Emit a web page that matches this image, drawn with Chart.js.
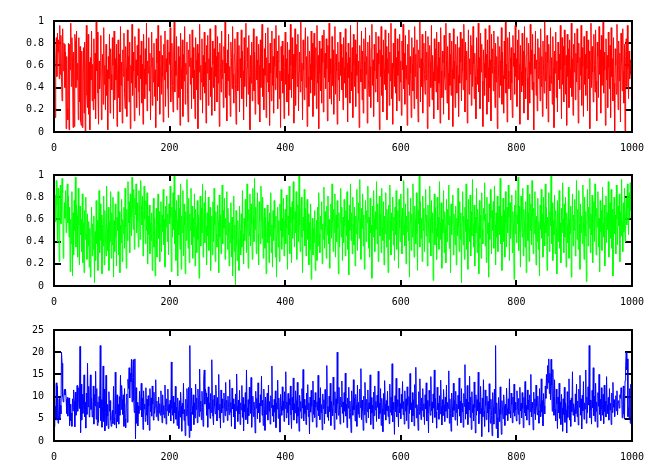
<!DOCTYPE html>
<html>
<head>
<meta charset="utf-8">
<script src="https://cdn.jsdelivr.net/npm/chart.js@4.4.1/dist/chart.umd.min.js"></script>
<style>
  html, body { margin: 0; padding: 0; background: #fff; }
  #wrap { position: relative; width: 659px; height: 475px; overflow: hidden; }
  #wrap canvas { position: absolute; left: 0; }
</style>
</head>
<body>
<div id="wrap">
  <canvas id="redChart" width="659" height="155" style="top:0px"></canvas>
  <canvas id="greenChart" width="659" height="155" style="top:154px"></canvas>
  <canvas id="blueChart" width="659" height="155" style="top:309px"></canvas>
</div>
<script>
// tick labels
const xTicks = [0, 200, 400, 600, 800, 1000];
const unitTicks = [0, 0.2, 0.4, 0.6, 0.8, 1];
const blueTicks = [0, 5, 10, 15, 20, 25];

// red series, values x100 (index = sample 0..999)
const redSeries = [
12,45,13,66,85,50,89,72,83,48,96,52,87,49,28,93,55,80,79,40,72,3,68,21,11,80,2,79,56,98,41,85,63,4,72,5,88,82,40,91,47,62,11,85,27,77,10,6,73,4,53,76,17,81,0,58,96,33,22,88,16,63,2,67,47,91,28,61,20,84,30,71,12,99,55,90,35,7,64,39,52,87,11,45,70,25,94,43,60,20,79,33,56,2,68,48,88,17,75,52,
38,85,60,12,91,29,66,47,79,5,54,83,31,70,18,95,42,63,8,74,50,89,35,21,77,58,14,92,46,68,27,81,3,60,44,97,33,72,55,10,86,40,65,22,78,51,93,36,15,69,48,82,26,61,7,88,57,30,75,43,98,19,64,53,85,37,71,11,59,90,24,67,45,80,32,56,4,84,62,28,96,41,73,16,58,87,34,69,50,9,79,47,91,23,66,54,83,39,13,72,
61,94,27,55,80,42,18,73,99,36,64,51,86,20,48,77,31,68,6,89,57,39,83,14,70,46,95,25,62,52,81,34,9,74,59,88,43,67,21,92,49,76,30,56,12,85,65,38,79,3,71,54,97,29,60,45,84,17,69,41,90,35,63,8,78,53,87,24,66,47,93,32,58,15,82,61,40,75,19,96,50,68,27,86,44,72,5,80,57,36,91,48,65,22,77,53,99,31,62,10,
74,46,88,33,59,14,81,67,39,95,52,26,70,84,43,7,63,90,37,56,78,18,66,49,92,30,73,55,11,85,41,64,98,23,58,76,34,87,50,2,69,44,81,28,61,93,37,72,16,54,86,47,65,25,79,60,9,83,40,71,97,32,57,20,75,51,89,13,67,45,94,36,62,6,80,53,28,91,42,68,17,84,59,38,96,49,73,21,63,87,30,55,4,77,46,82,35,69,12,58,
90,43,66,27,81,52,15,74,38,97,60,31,85,48,70,8,57,93,24,65,79,41,88,19,54,72,36,99,46,62,11,83,56,29,77,94,40,68,5,86,50,23,73,61,35,91,47,80,14,64,89,33,58,76,21,96,44,69,3,82,53,37,75,26,87,63,18,92,49,71,39,84,57,10,78,45,98,30,66,52,25,86,42,74,16,61,95,34,70,55,7,81,47,63,28,90,51,79,38,67,
20,85,58,44,93,31,72,62,9,80,49,67,26,96,54,37,76,13,88,60,41,83,23,70,51,99,35,64,4,78,57,45,91,29,73,17,84,63,39,94,52,68,8,81,47,32,87,59,22,75,97,42,65,14,79,55,36,90,48,71,27,86,61,2,74,50,95,33,69,18,83,56,43,92,38,77,11,66,53,89,24,72,46,98,30,62,7,80,58,41,93,35,67,19,84,51,73,28,88,45,
64,15,82,56,97,39,71,25,87,48,60,6,79,43,92,33,68,53,13,85,61,37,76,21,95,50,70,30,83,45,9,74,58,99,27,66,41,88,17,62,80,52,34,91,47,72,3,86,57,23,78,63,40,96,29,69,54,12,84,46,75,36,90,59,20,81,44,67,8,94,55,31,73,62,16,87,49,38,98,65,26,77,53,11,89,42,70,33,82,57,5,93,48,64,22,79,60,35,86,51,
14,76,44,90,63,28,84,55,38,97,69,18,81,47,73,8,59,92,34,66,52,87,24,78,41,95,61,30,71,50,12,85,57,43,98,36,67,21,89,54,79,46,5,74,62,33,93,49,70,16,83,58,27,96,40,65,10,88,53,75,37,91,60,22,80,45,68,3,86,56,31,77,64,42,94,25,72,51,17,82,48,99,35,61,9,85,55,39,90,67,29,76,44,13,87,59,71,34,96,50,
66,23,83,47,92,61,7,78,54,36,89,42,73,17,95,58,30,69,85,49,11,80,63,26,97,52,74,38,88,45,2,70,57,91,33,65,19,84,48,76,60,28,93,41,68,14,82,55,35,99,46,72,21,87,62,9,79,51,37,94,44,67,25,86,58,4,73,53,90,31,64,18,81,47,70,39,96,56,12,85,43,77,27,92,60,34,69,6,88,50,75,22,83,57,40,98,32,66,15,79,
54,89,29,71,45,93,62,8,80,38,67,51,96,24,76,59,14,86,43,70,33,91,57,19,83,48,73,3,64,98,40,77,54,27,88,61,36,92,46,10,81,68,31,95,52,74,17,87,42,63,99,35,72,56,6,84,47,69,22,90,58,39,78,13,94,50,66,28,85,44,1,75,60,34,97,53,20,82,46,71,9,89,63,37,93,55,26,79,0,68,84,41,96,57,30,73,48,65,52,62
];

// green series, values x100
const greenSeries = [
35,67,82,58,95,73,40,88,62,22,79,91,56,70,97,84,25,52,75,61,86,48,69,92,57,81,44,71,13,60,38,85,9,66,28,77,50,98,35,73,63,26,88,55,19,72,46,60,31,83,21,57,12,68,42,80,47,24,65,36,58,17,52,8,45,71,27,56,33,63,3,49,23,77,38,59,14,47,86,30,74,41,64,11,55,36,81,19,68,44,27,90,52,32,71,14,58,40,85,25,
66,37,80,8,59,31,74,44,18,62,50,85,28,67,12,55,39,78,22,60,47,71,34,88,53,16,69,41,94,57,76,30,83,62,45,98,70,51,87,33,79,64,92,48,75,58,35,86,67,42,95,72,55,81,27,68,90,60,38,77,50,84,20,63,46,73,29,57,41,66,14,52,79,35,61,9,47,70,26,58,83,43,67,22,55,76,31,64,49,87,37,60,17,72,53,81,40,65,28,74,
56,90,62,13,71,44,84,51,99,38,68,23,77,59,9,82,46,70,33,92,15,63,48,86,27,74,55,11,67,41,96,58,34,79,21,65,50,88,37,72,25,61,44,83,18,69,53,30,77,42,64,7,58,81,36,70,48,92,26,60,75,39,86,54,19,66,45,80,32,58,71,14,50,63,28,76,40,88,55,22,67,47,35,73,59,12,82,44,64,29,57,91,38,68,52,79,24,61,46,85,
33,70,48,18,57,39,75,26,62,9,44,81,31,55,0,68,37,23,59,42,14,72,50,28,65,35,86,47,20,61,41,78,53,30,92,58,16,69,45,83,36,74,56,24,88,62,40,97,51,71,29,64,84,47,19,76,58,38,90,66,43,80,25,57,70,34,62,11,49,73,39,58,21,66,45,84,30,55,17,68,41,77,52,26,63,8,47,71,35,59,22,74,50,87,33,61,44,79,27,56,
69,38,82,52,15,63,46,90,29,71,57,21,76,43,94,60,35,67,48,85,24,58,73,40,99,55,31,66,80,44,12,62,50,87,36,70,27,54,78,42,65,19,57,33,74,6,48,61,28,52,39,68,14,45,59,23,71,36,84,47,30,63,51,76,20,56,42,89,34,67,53,25,72,46,81,38,60,16,55,74,43,92,58,31,69,48,83,26,64,40,77,52,11,66,35,57,88,44,71,23,
62,39,78,54,27,68,45,85,33,59,10,73,50,92,41,66,29,80,56,37,71,18,63,47,87,32,58,75,43,96,61,24,70,52,83,36,64,15,49,77,40,68,57,90,34,62,26,79,48,55,7,72,44,86,60,31,67,51,94,38,74,22,58,81,45,65,30,88,53,41,76,19,63,47,84,35,69,56,12,73,42,91,59,28,66,50,80,37,62,23,71,46,86,33,57,68,16,78,52,40,
83,61,29,70,46,95,55,36,74,20,63,49,88,41,67,8,57,79,32,65,44,92,53,26,72,60,38,84,47,14,68,56,99,35,76,43,61,22,81,50,70,31,58,87,45,64,18,73,54,39,90,62,27,77,48,66,5,59,83,37,71,52,24,80,44,62,33,94,57,42,75,16,60,48,86,30,67,53,21,78,40,69,55,91,34,63,12,74,46,58,82,28,65,50,37,72,19,61,45,88,
54,31,76,42,66,3,58,85,37,63,24,71,49,92,33,60,15,78,52,40,82,27,67,45,96,56,35,73,18,62,48,88,30,69,54,11,77,43,64,25,84,51,38,70,59,93,36,65,21,80,47,57,8,74,42,87,61,29,68,50,76,34,90,55,19,66,44,81,31,59,72,46,97,38,63,14,52,79,40,68,26,85,57,35,71,48,91,62,23,75,43,58,82,30,67,53,6,73,47,86,
39,64,56,98,32,72,49,17,81,60,44,88,27,69,53,35,76,12,58,91,41,66,22,83,50,74,37,95,62,29,70,47,85,55,19,63,40,79,33,58,9,73,51,87,43,65,26,80,57,36,92,48,71,14,62,45,84,31,67,54,99,38,75,23,59,46,82,29,68,52,11,77,40,63,86,34,57,21,70,48,93,61,30,74,44,80,17,66,55,39,89,25,60,47,72,8,58,83,36,64,
50,78,27,61,95,42,69,33,86,56,15,74,48,63,38,91,59,24,80,45,67,4,55,87,36,71,52,97,30,65,46,82,21,59,76,40,92,63,28,70,53,85,35,61,13,77,49,68,32,89,57,44,73,18,62,81,39,66,51,94,26,58,75,43,87,34,69,9,56,80,47,64,29,91,60,37,72,54,83,22,67,45,96,58,31,75,49,88,40,63,79,55,92,70,46,84,61,93,68,77
];

// blue series, values x10
const blueSeries = [
128,32,78,52,131,47,124,40,58,96,48,80,61,200,175,100,88,97,116,104,117,94,62,98,56,92,97,35,83,46,63,33,95,68,115,90,32,110,58,76,125,67,92,120,73,213,19,128,47,105,62,80,149,55,87,29,108,60,175,77,123,54,103,149,71,97,54,61,124,38,105,79,157,49,118,35,88,42,100,75,215,46,93,31,77,169,44,117,23,64,148,35,82,56,28,111,67,91,47,33,
58,69,39,123,52,37,155,61,29,104,44,82,38,100,58,148,71,125,94,60,104,33,118,50,30,84,106,42,139,118,165,97,153,133,184,88,143,183,91,64,185,5,120,40,87,34,79,62,112,70,89,130,54,97,26,113,72,83,44,120,58,94,36,102,79,24,118,66,97,56,124,83,47,110,62,77,138,55,90,71,46,99,63,84,58,113,72,41,104,60,80,52,126,75,38,95,68,117,57,82,
64,92,45,178,73,58,101,40,87,63,123,49,76,35,97,68,28,91,54,110,79,22,85,61,130,46,71,12,94,57,118,73,35,121,8,215,66,23,119,78,60,104,37,86,52,128,71,97,41,117,83,55,162,67,90,48,112,76,33,138,160,83,117,108,58,98,31,122,72,86,51,107,64,183,94,56,36,103,79,61,126,89,45,98,70,150,52,83,29,115,63,95,74,42,108,81,57,132,68,92,
46,101,76,59,138,65,87,33,119,72,95,54,83,27,106,68,151,79,44,92,61,114,37,86,70,125,53,98,23,82,66,109,48,160,75,39,93,57,121,84,62,143,31,77,101,55,88,69,18,112,74,96,50,131,63,85,42,104,79,146,58,92,35,117,71,24,99,60,83,108,47,126,67,89,38,102,75,169,56,81,43,94,65,113,30,86,72,137,51,97,62,20,105,78,58,122,69,90,44,111,
73,156,52,88,64,107,36,95,81,124,59,28,98,70,142,47,84,63,113,91,40,132,56,76,22,103,67,89,51,118,74,161,45,94,62,80,37,108,71,127,55,86,16,99,65,114,78,43,135,60,92,53,109,76,31,88,69,148,57,97,48,120,64,82,25,106,73,93,39,116,61,85,170,54,78,46,101,66,130,35,89,72,57,144,80,26,111,63,95,49,200,84,58,121,71,38,99,77,135,62,
88,42,109,67,153,56,83,30,97,74,121,51,90,64,19,113,79,58,138,70,96,45,105,82,33,126,61,87,53,117,75,163,48,92,68,24,101,59,132,77,41,94,66,115,52,86,72,149,37,98,63,81,27,110,57,124,70,89,44,103,76,157,50,85,62,118,35,96,73,21,107,60,136,84,47,91,68,112,55,79,39,128,65,99,58,174,43,87,71,15,102,66,141,54,93,78,32,119,63,84,
50,105,73,134,59,89,38,113,67,95,46,122,80,28,100,62,152,71,86,43,109,57,93,34,127,75,166,52,82,66,24,111,60,140,77,48,97,69,118,55,84,37,104,72,131,45,91,63,18,114,79,58,145,68,88,41,106,74,160,53,96,65,29,121,70,85,49,102,61,137,78,36,93,57,116,81,44,99,67,126,52,87,73,158,40,95,62,22,108,76,54,130,69,91,47,112,64,83,35,103,
72,142,56,90,41,118,66,85,31,107,78,172,49,94,61,125,37,88,70,146,53,99,26,111,64,82,45,133,75,18,104,58,93,68,155,39,87,61,123,74,10,97,55,138,67,33,115,80,48,101,63,89,20,129,72,40,94,57,12,109,76,38,117,62,215,28,86,53,7,98,71,44,122,60,15,91,68,50,104,79,35,83,58,119,73,46,95,61,140,67,52,108,82,41,99,64,128,56,87,70,
45,113,77,60,96,38,121,68,85,52,109,73,30,98,63,134,57,80,47,115,71,92,36,104,66,150,54,87,74,25,110,62,95,48,126,78,59,101,69,40,118,83,55,140,65,91,34,107,79,61,124,96,150,118,170,131,185,107,152,93,184,126,67,161,100,58,138,72,45,117,83,28,99,64,130,51,88,37,105,74,22,95,60,121,42,86,69,18,111,53,79,140,47,92,33,97,66,156,58,84,
71,43,106,62,128,55,90,36,117,76,148,58,95,27,103,68,134,49,86,72,160,40,99,63,122,81,215,52,92,69,38,114,75,165,57,101,44,130,67,88,31,109,78,150,60,94,46,120,72,58,105,39,126,66,90,54,145,81,62,98,47,118,70,85,37,108,64,132,76,93,55,79,102,68,113,59,87,91,74,104,96,120,109,52,82,124,61,49,136,170,200,160,185,55,75,52,118,40,128,35
];

Chart.defaults.font.family = "'DejaVu Sans Mono', monospace";
Chart.defaults.font.size = 10;
Chart.defaults.color = '#000';

// gnuplot style box + inward ticks on all four sides
const framePlugin = {
  id: 'frame',
  beforeDatasetsDraw(chart) {
    const {ctx, chartArea: a, scales} = chart;
    ctx.save();
    ctx.strokeStyle = '#000';
    ctx.lineWidth = 2;
    ctx.beginPath();
    scales.x.ticks.forEach(t => {
      const px = Math.round(scales.x.getPixelForValue(t.value));
      ctx.moveTo(px, a.bottom); ctx.lineTo(px, a.bottom - 6);
      ctx.moveTo(px, a.top); ctx.lineTo(px, a.top + 6);
    });
    scales.y.ticks.forEach(t => {
      const py = Math.round(scales.y.getPixelForValue(t.value));
      ctx.moveTo(a.left, py); ctx.lineTo(a.left + 7, py);
      ctx.moveTo(a.right, py); ctx.lineTo(a.right - 7, py);
    });
    ctx.stroke();
    ctx.restore();
  },
  afterDatasetsDraw(chart) {
    const {ctx, chartArea: a} = chart;
    ctx.save();
    ctx.strokeStyle = '#000';
    ctx.lineWidth = 2;
    ctx.strokeRect(a.left, a.top, a.right - a.left, a.bottom - a.top);
    ctx.restore();
  }
};

function makePanel(canvasId, series, scaleDiv, color, yTicks) {
  const points = series.map((v, i) => ({x: i, y: v / scaleDiv}));
  return new Chart(document.getElementById(canvasId), {
    type: 'line',
    data: {
      datasets: [{
        data: points,
        borderColor: color,
        borderWidth: 1,
        pointRadius: 0,
        tension: 0,
        fill: false,
      }],
    },
    options: {
      responsive: false,
      animation: false,
      events: [],
      parsing: false,
      layout: { padding: { top: 21, right: 27, left: 0, bottom: 0 } },
      plugins: { legend: { display: false }, tooltip: { enabled: false } },
      scales: {
        x: {
          type: 'linear',
          min: 0,
          max: 1000,
          afterBuildTicks: s => { s.ticks = xTicks.map(v => ({value: v})); },
          afterFit: s => { s.height = 23; },
          grid: { display: false, drawTicks: false },
          border: { display: false },
          ticks: { padding: 10, maxRotation: 0, autoSkip: false, callback: v => String(v) },
        },
        y: {
          min: yTicks[0],
          max: yTicks[yTicks.length - 1],
          afterBuildTicks: s => { s.ticks = yTicks.map(v => ({value: v})); },
          afterFit: s => { s.width = 54; },
          grid: { display: false, drawTicks: false },
          border: { display: false },
          ticks: { padding: 10, autoSkip: false, callback: v => String(v) },
        },
      },
    },
    plugins: [framePlugin],
  });
}

makePanel('redChart', redSeries, 100, '#ff0000', unitTicks);
makePanel('greenChart', greenSeries, 100, '#00ff00', unitTicks);
makePanel('blueChart', blueSeries, 10, '#0000ff', blueTicks);
</script>
</body>
</html>
